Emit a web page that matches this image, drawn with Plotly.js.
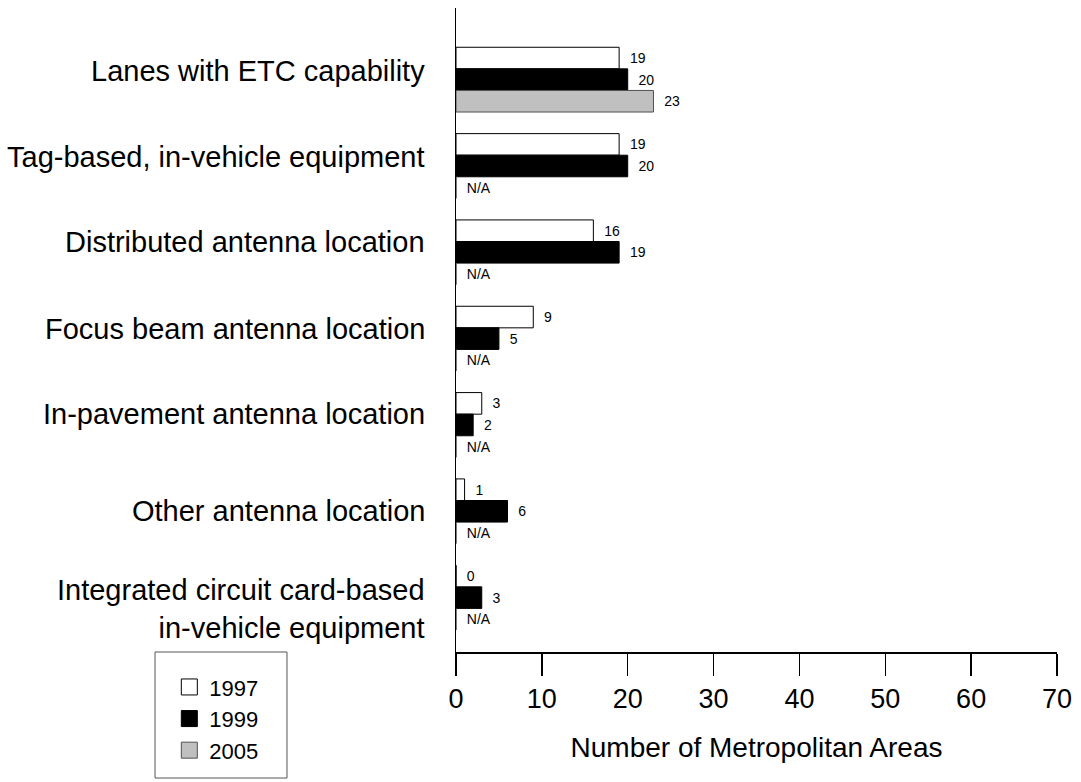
<!DOCTYPE html>
<html>
<head>
<meta charset="utf-8">
<script src="https://cdn.plot.ly/plotly-3.0.1.min.js"></script>
<style>html,body{margin:0;padding:0;background:#fff;}#chart{width:1081px;height:782px;}</style>
</head>
<body>
<div id="chart"></div>
<script>
var categories = [
  "Lanes with ETC capability",
  "Tag-based, in-vehicle equipment",
  "Distributed antenna location",
  "Focus beam antenna location",
  "In-pavement antenna location",
  "Other antenna location",
  "Integrated circuit card-based<br>in-vehicle equipment"
];
var years = ["1997", "1999", "2005"];
var v1997 = [19, 19, 16, 9, 3, 1, 0];
var v1999 = [20, 20, 19, 5, 2, 6, 3];
var v2005 = [23, null, null, null, null, null, null];
var xTicks = [0, 10, 20, 30, 40, 50, 60, 70];

var FONT = "Liberation Sans, Arial, sans-serif";
var fills = ["#ffffff", "#000000", "#c0c0c0"];
var edges = ["#000000", "#000000", "#505050"];
var series = [v1997, v1999, v2005];

var traces = [];
series.forEach(function (vals, i) {
  traces.push({
    type: "bar",
    orientation: "h",
    y: categories,
    x: vals.map(function (v) { return v === null ? 0 : v; }),
    text: vals.map(function (v) { return v === null ? "N/A" : String(v); }),
    texttemplate: "\u00a0\u00a0%{text}",
    textposition: "outside",
    textfont: {family: FONT, size: 14, color: "#000"},
    cliponaxis: false,
    marker: {color: fills[i], line: {color: edges[i], width: 1}},
    name: years[i],
    showlegend: false,
    hoverinfo: "x+name"
  });
});
// legend entries
series.forEach(function (vals, i) {
  traces.push({
    type: "scatter",
    mode: "markers",
    x: [null], y: [null],
    name: years[i],
    marker: {symbol: "square", size: 22, color: fills[i], line: {color: edges[i], width: 1}},
    showlegend: true,
    hoverinfo: "skip"
  });
});

var labelShift = [9, 9, 10, 10, 11, 0, -11];
var annotations = categories.map(function (c, i) {
  return {
    xref: "paper", yref: "y", x: -0.048, y: c,
    xanchor: "right", yanchor: "middle", align: "right",
    yshift: labelShift[i],
    text: c, showarrow: false,
    font: {family: FONT, size: 29, color: "#000"}
  };
});

var layout = {
  width: 1081, height: 782,
  margin: {l: 456, r: 24, t: 8, b: 130},
  paper_bgcolor: "#fff", plot_bgcolor: "#fff",
  font: {family: FONT, color: "#000"},
  barmode: "group", bargap: 0.25, bargroupgap: 0,
  xaxis: {
    range: [0, 70], tickvals: xTicks, ticktext: xTicks.map(String),
    ticks: "outside", ticklen: 22, tickwidth: 1.5, tickcolor: "#000",
    showline: true, linecolor: "#000", linewidth: 1.5,
    showgrid: false, zeroline: false,
    tickfont: {family: FONT, size: 27, color: "#000"},
    title: {text: "Number of Metropolitan Areas", font: {family: FONT, size: 28, color: "#000"}, standoff: 24}
  },
  yaxis: {
    type: "category", range: [6.63, -0.83],
    showticklabels: false, ticks: "",
    showline: true, linecolor: "#000", linewidth: 1.5,
    showgrid: false, zeroline: false
  },
  showlegend: true,
  legend: {
    x: -0.477, y: -0.022, xanchor: "left", yanchor: "top",
    bgcolor: "rgba(0,0,0,0)", borderwidth: 0,
    font: {family: FONT, size: 22, color: "#000"},
    tracegroupgap: 0, itemsizing: "trace"
  },
  shapes: [{
    type: "rect", xref: "paper", yref: "paper",
    x0: -0.5008, x1: -0.2812, y0: -0.1957, y1: 0,
    line: {color: "#555", width: 1}, fillcolor: "rgba(0,0,0,0)"
  }],
  annotations: annotations
};

Plotly.newPlot("chart", traces, layout, {displayModeBar: false, staticPlot: true});
</script>
</body>
</html>
